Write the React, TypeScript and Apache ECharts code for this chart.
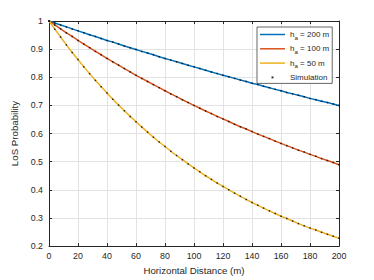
import React, { useEffect, useRef } from 'react';
import * as echarts from 'echarts';

const distance = [0, 4, 8, 12, 16, 20, 24, 28, 32, 36, 40, 44, 48, 52, 56, 60, 64, 68, 72, 76, 80, 84, 88, 92, 96, 100, 104, 108, 112, 116, 120, 124, 128, 132, 136, 140, 144, 148, 152, 156, 160, 164, 168, 172, 176, 180, 184, 188, 192, 196, 200];

const ha200 = [1.000, 0.993, 0.986, 0.979, 0.972, 0.965, 0.958, 0.951, 0.945, 0.938, 0.931, 0.925, 0.918, 0.911, 0.905, 0.899, 0.892, 0.886, 0.880, 0.873, 0.867, 0.861, 0.855, 0.849, 0.843, 0.837, 0.831, 0.825, 0.819, 0.813, 0.807, 0.802, 0.796, 0.790, 0.785, 0.779, 0.774, 0.768, 0.763, 0.757, 0.752, 0.746, 0.741, 0.736, 0.731, 0.725, 0.720, 0.715, 0.710, 0.705, 0.700];

const ha100 = [1.000, 0.986, 0.972, 0.958, 0.945, 0.931, 0.918, 0.905, 0.892, 0.880, 0.867, 0.855, 0.843, 0.831, 0.819, 0.807, 0.796, 0.785, 0.774, 0.763, 0.752, 0.741, 0.731, 0.720, 0.710, 0.700, 0.690, 0.680, 0.671, 0.661, 0.652, 0.643, 0.633, 0.624, 0.616, 0.607, 0.598, 0.590, 0.582, 0.573, 0.565, 0.557, 0.549, 0.541, 0.534, 0.526, 0.519, 0.511, 0.504, 0.497, 0.489];

const ha50 = [1.000, 0.971, 0.943, 0.915, 0.888, 0.863, 0.837, 0.813, 0.789, 0.766, 0.744, 0.722, 0.701, 0.681, 0.661, 0.642, 0.623, 0.605, 0.587, 0.570, 0.554, 0.537, 0.522, 0.507, 0.492, 0.478, 0.464, 0.450, 0.437, 0.424, 0.412, 0.400, 0.388, 0.377, 0.366, 0.355, 0.345, 0.335, 0.325, 0.316, 0.306, 0.298, 0.289, 0.280, 0.272, 0.264, 0.257, 0.249, 0.242, 0.235, 0.228];

// Simulation samples (coincide with the analytical curves)
const sim200 = ha200;
const sim100 = ha100;
const sim50 = ha50;

const seriesNames = ['h_a = 200 m', 'h_a = 100 m', 'h_a = 50 m'];
const heightLabels = ['200', '100', '50'];
const simName = 'Simulation';
const xLabel = 'Horizontal Distance (m)';
const yLabel = 'LoS Probability';

export default function App() {
  const ref = useRef<HTMLDivElement>(null);
  useEffect(() => {
    if (!ref.current) return;
    const chart = echarts.init(ref.current, null, { renderer: 'svg' });
    const axisColor = '#262626';
    const gridColor = '#e3e3e3';
    const font = '"Liberation Sans", Arial, Helvetica, sans-serif';
    const colors = ['#0072BD', '#D95319', '#EDB120'];
    const curves = [ha200, ha100, ha50];
    const sims = [sim200, sim100, sim50];
    const pairs = (ys: number[]) => distance.map((d, i) => [d, ys[i]]);

    const baseAxis = {
      type: 'value',
      axisLine: { show: true, onZero: false, lineStyle: { color: axisColor, width: 1 } },
      axisTick: { show: true, inside: true, length: 3, lineStyle: { color: axisColor, width: 1 } },
    };

    const lineIcon = 'path://M0,0M25,11M0,4.75h25v1.5h-25z';
    const dotIcon = 'path://M0,0M25,11M11.5,4.5h2v2h-2z';

    const option: any = {
      animation: false,
      backgroundColor: '#ffffff',
      textStyle: { fontFamily: font },
      grid: { left: 49, right: 35, top: 21, bottom: 32 },
      xAxis: [
        {
          ...baseAxis,
          min: 0, max: 200, interval: 20, position: 'bottom',
          name: xLabel, nameLocation: 'middle', nameGap: 18,
          nameTextStyle: { fontSize: 9.7, color: axisColor, fontFamily: font },
          axisLabel: { fontSize: 8.8, color: axisColor, margin: 5, fontFamily: font },
          splitLine: { show: true, lineStyle: { color: gridColor, width: 1 } },
        },
        {
          ...baseAxis,
          min: 0, max: 200, interval: 20, position: 'top',
          axisLabel: { show: false },
          splitLine: { show: false },
        },
      ],
      yAxis: [
        {
          ...baseAxis,
          min: 0.2, max: 1, interval: 0.1, position: 'left',
          name: yLabel, nameLocation: 'middle', nameGap: 20,
          nameTextStyle: { fontSize: 9.7, color: axisColor, fontFamily: font },
          axisLabel: { fontSize: 8.8, color: axisColor, margin: 6, fontFamily: font },
          splitLine: { show: true, lineStyle: { color: gridColor, width: 1 } },
        },
        {
          ...baseAxis,
          min: 0.2, max: 1, interval: 0.1, position: 'right',
          axisLabel: { show: false },
          splitLine: { show: false },
        },
      ],
      legend: {
        orient: 'vertical',
        left: 257,
        top: 27,
        itemWidth: 25,
        itemHeight: 11,
        itemGap: 3.3,
        padding: [2, 3, 0.5, 3],
        backgroundColor: '#ffffff',
        borderColor: axisColor,
        borderWidth: 0.7,
        selectedMode: false,
        data: [
          ...seriesNames.map((n, i) => ({ name: n, icon: lineIcon, itemStyle: { color: colors[i] } })),
          { name: simName, icon: dotIcon, itemStyle: { color: '#000' } },
        ],
        formatter: (name: string) => {
          const i = seriesNames.indexOf(name);
          if (i < 0) return '{n|' + name + '}';
          return '{n|h}{s|a}{n| = ' + heightLabels[i] + ' m}';
        },
        textStyle: {
          fontFamily: font,
          fontSize: 8,
          color: axisColor,
          rich: {
            n: { fontSize: 8, lineHeight: 11, color: axisColor, fontFamily: font },
            s: { fontSize: 6.2, lineHeight: 6, verticalAlign: 'bottom', color: axisColor, fontFamily: font },
          },
        },
      },
      series: [
        ...curves.map((ys, i) => ({
          type: 'line',
          name: seriesNames[i],
          data: pairs(ys),
          symbol: 'none',
          showSymbol: false,
          lineStyle: { color: colors[i], width: 1.5 },
          itemStyle: { color: colors[i] },
          z: 2,
        })),
        ...sims.map((ys) => ({
          type: 'scatter',
          name: simName,
          data: pairs(ys),
          symbol: 'rect',
          symbolSize: 1.5,
          itemStyle: { color: '#000000' },
          z: 3,
        })),
      ],
    };
    chart.setOption(option);
    return () => chart.dispose();
  }, []);

  return (
    <div
      ref={ref}
      style={{ position: 'fixed', left: 0, top: 0, width: 374, height: 280, background: '#fff' }}
    />
  );
}
